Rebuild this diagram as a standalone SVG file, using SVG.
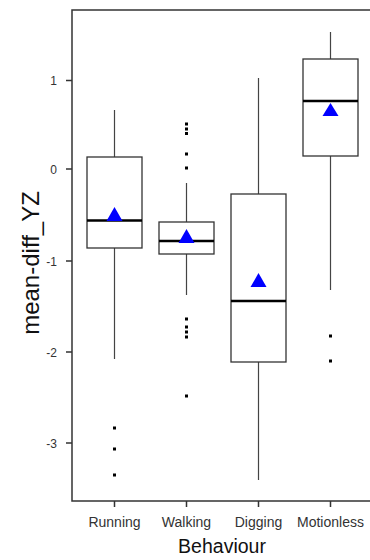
<svg xmlns="http://www.w3.org/2000/svg" width="370" height="560" viewBox="0 0 370 560">
<style>
.axis{stroke:#333;stroke-width:1.5;fill:none}
.tick{stroke:#333;stroke-width:1.5}
.box{fill:#fff;stroke:#333;stroke-width:1.3}
.wh{stroke:#444;stroke-width:1.2}
.med{stroke:#000;stroke-width:2.6}
.mean{fill:#0000ff}
.out{fill:#000}
.tl{font-family:"Liberation Sans",Arial,sans-serif;font-size:12px;fill:#333;text-anchor:end}
.xl{font-family:"Liberation Sans",Arial,sans-serif;font-size:14px;fill:#333;text-anchor:middle}
.title{font-family:"Liberation Sans",Arial,sans-serif;font-size:19.5px;fill:#111;text-anchor:middle}
</style>
<rect width="370" height="560" fill="#fff"/>
<g id="axes">
<path class="axis" d="M370 10H72V501H370"/>
<path class="tick" d="M66 80.5H72M66 169H72M66 261H72M66 352H72M66 443H72"/>
<path class="tick" d="M114.5 501V507M186.5 501V507M258.5 501V507M330.5 501V507"/>
<text class="tl" x="57" y="84.5">1</text>
<text class="tl" x="57" y="173.5">0</text>
<text class="tl" x="57" y="265.5">-1</text>
<text class="tl" x="57" y="356.5">-2</text>
<text class="tl" x="57" y="447.5">-3</text>
<text class="xl" x="114.5" y="527">Running</text>
<text class="xl" x="186.5" y="527">Walking</text>
<text class="xl" x="258.5" y="527">Digging</text>
<text class="xl" x="330.5" y="527">Motionless</text>
<text class="title" x="222" y="553">Behaviour</text>
<text class="title" font-size="24" transform="translate(39 263) rotate(-90)" style="font-size:24px">mean-diff_YZ</text>
</g>
<g id="connectors">
<path class="wh" d="M114.5 110V157M114.5 248V359"/>
<path class="wh" d="M186.5 183V222M186.5 254V295"/>
<path class="wh" d="M258.5 78V194M258.5 362V480"/>
<path class="wh" d="M330.5 32V59M330.5 156V290"/>
</g>
<g id="running">
<rect class="box" x="87" y="157" width="55" height="91"/>
<path class="med" d="M87 220.5H142"/>
<polygon class="mean" points="114.5,207 122.5,221 106.5,221"/>
<rect class="out" x="113" y="426.5" width="3" height="3"/>
<rect class="out" x="113" y="447.5" width="3" height="3"/>
<rect class="out" x="113" y="473.5" width="3" height="3"/>
</g>
<g id="walking">
<rect class="box" x="159" y="222" width="55" height="32"/>
<path class="med" d="M159 241H214"/>
<polygon class="mean" points="186.5,229 194.5,243 178.5,243"/>
<rect class="out" x="185" y="122.5" width="3" height="3"/>
<rect class="out" x="185" y="127.5" width="3" height="3"/>
<rect class="out" x="185" y="132" width="3" height="3"/>
<rect class="out" x="185" y="152.5" width="3" height="3"/>
<rect class="out" x="185" y="166.5" width="3" height="3"/>
<rect class="out" x="185" y="317.5" width="3" height="3"/>
<rect class="out" x="185" y="325.5" width="3" height="3"/>
<rect class="out" x="185" y="330.5" width="3" height="3"/>
<rect class="out" x="185" y="335.5" width="3" height="3"/>
<rect class="out" x="185" y="394.5" width="3" height="3"/>
</g>
<g id="digging">
<rect class="box" x="231" y="194" width="55" height="168"/>
<path class="med" d="M231 301H286"/>
<polygon class="mean" points="258.5,273 266.5,287 250.5,287"/>
</g>
<g id="motionless">
<rect class="box" x="303" y="59" width="55" height="97"/>
<path class="med" d="M303 101H358"/>
<polygon class="mean" points="330.5,103 338.5,116 322.5,116"/>
<rect class="out" x="329" y="334.5" width="3" height="3"/>
<rect class="out" x="329" y="359.5" width="3" height="3"/>
</g>
</svg>
